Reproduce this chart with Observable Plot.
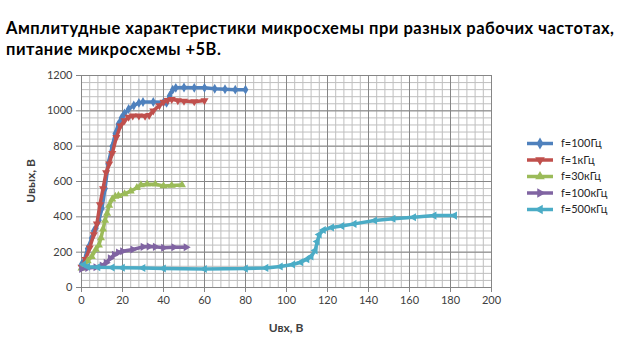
<!DOCTYPE html>
<html>
<head>
<meta charset="utf-8">
<script src="https://cdn.jsdelivr.net/npm/d3@7"></script>
<script src="https://cdn.jsdelivr.net/npm/@observablehq/plot@0.6"></script>
<style>
  body { margin: 0; background: #fff; }
  #wrap { position: relative; width: 624px; height: 354px; font-family: Lato, sans-serif; overflow: hidden; }
  #title { position: absolute; left: 6px; top: 18px; font-weight: bold; font-size: 16.5px; letter-spacing: 0.5px; line-height: 21px; color: #000; white-space: nowrap; }
  #ylab { position: absolute; left: 30px; top: 181px; transform: translate(-50%,-50%) rotate(-90deg); font-weight: bold; font-size: 12px; color: #404040; white-space: nowrap; }
  #xlab { position: absolute; left: 286px; top: 327px; transform: translate(-50%,-50%); font-weight: bold; font-size: 12px; color: #404040; white-space: nowrap; }
  #chart { position: absolute; left: 0; top: 0; }
  #legend { position: absolute; left: 524px; top: 134px; }
</style>
</head>
<body>
<div id="wrap">
  <div id="chart"></div>
  <div id="title">Амплитудные характеристики микросхемы при разных рабочих частотах,<br>питание микросхемы +5В.</div>
  <div id="ylab">Uвых, В</div>
  <div id="xlab">Uвх, В</div>
  <div id="legend"></div>
</div>
<script>
// Series names
const seriesNames = ["f=100Гц", "f=1кГц", "f=30кГц", "f=100кГц", "f=500кГц"];
const seriesColors = ["#4F81BD", "#C0504D", "#9BBB59", "#8064A2", "#4BACC6"];

// f=100Гц
const blueX = [0,1,3,5,6,7,8.5,10,11.5,13,15,16.5,18,19.5,21,23,25.5,28,30,35,40,41.5,43,44.5,46,50,55,60,65,70,75,80];
const blueY = [130,140,220,280,320,335,380,450,560,700,800,870,925,960,985,1010,1030,1045,1050,1050,1048,1045,1085,1120,1130,1132,1130,1130,1125,1122,1120,1120];
// f=1кГц
const redX = [0,2,4,6,7.5,9,10.5,12,13.5,15,17,19,21,23,25,28,31,33,35,38,40,42,44,47,50,55,60];
const redY = [115,160,225,300,360,470,560,650,700,760,850,915,945,965,972,972,970,975,1000,1030,1050,1060,1065,1058,1055,1052,1058];
// f=30кГц
const greenX = [0,3,5,7,8.5,9.5,10.5,11.5,12.5,13.5,15,16.5,18,21,24,27,29,32,36,40,44,49];
const greenY = [110,150,175,215,240,280,330,380,420,465,500,515,520,530,545,565,580,585,585,575,578,580];
// f=100кГц
const purpleX = [0,3,7,10,12,14,16,18,20,25,30,33,36,40,45,51];
const purpleY = [105,110,115,125,140,165,185,198,205,215,230,232,230,225,228,228];
// f=500кГц
const cyanX = [1,3,8,15,20,30,40,60,80,90,97,103,107,110,112,114,115,116,118,122,127,133,143,152,162,172,182];
const cyanY = [130,118,115,113,112,110,108,105,107,111,119,130,143,160,175,210,260,300,325,340,348,360,379,389,398,407,407];

// Tick values
const xTicks = [0,20,40,60,80,100,120,140,160,180,200];
const yTicks = [0,200,400,600,800,1000,1200];
const xMinor = d3.range(0, 201, 4);
const yMinor = d3.range(0, 1201, 40);

const markerSymbols = ["diamond", "triangle", "triangle", "triangle", "triangle"];
const markerRotate = [0, 180, 0, 90, -90];

const seriesXY = [[blueX, blueY], [redX, redY], [greenX, greenY], [purpleX, purpleY], [cyanX, cyanY]];
const data = [];
seriesXY.forEach(([xs, ys], i) => {
  xs.forEach((x, j) => data.push({series: seriesNames[i], idx: i, x, y: ys[j]}));
});

const marks = [
  Plot.ruleX(xMinor, {stroke: "#bfbfbf", strokeWidth: 1}),
  Plot.ruleY(yMinor, {stroke: "#bfbfbf", strokeWidth: 1}),
  Plot.ruleX(xTicks, {stroke: "#868686", strokeWidth: 1}),
  Plot.ruleY(yTicks, {stroke: "#868686", strokeWidth: 1}),
  Plot.axisX({ticks: xTicks, tickSize: 5, tickPadding: 4, stroke: "#868686", label: null, fontSize: 11, tickFormat: "d"}),
  Plot.axisY({ticks: yTicks, tickSize: 5, tickPadding: 4, stroke: "#868686", label: null, fontSize: 11, tickFormat: "d"}),
];
seriesNames.forEach((name, i) => {
  const d = data.filter(r => r.idx === i);
  marks.push(Plot.line(d, {x: "x", y: "y", stroke: seriesColors[i], strokeWidth: 3.5, strokeLinejoin: "round", strokeLinecap: "round"}));
  marks.push(Plot.dot(d, {x: "x", y: "y", symbol: () => markerSymbols[i], rotate: markerRotate[i], fill: seriesColors[i], stroke: "none", r: 3}));
});

const chart = Plot.plot({
  width: 624, height: 354,
  marginLeft: 81, marginRight: 133, marginTop: 75, marginBottom: 67,
  x: {domain: [0, 200]},
  y: {domain: [0, 1200]},
  symbol: {type: "identity"},
  style: {fontFamily: "Lato, sans-serif", fontSize: "11px", color: "#404040", background: "transparent"},
  marks
});
document.getElementById("chart").appendChild(chart);

// Legend
const lg = d3.select("#legend").append("svg").attr("width", 100).attr("height", 90)
  .style("font-family", "Lato, sans-serif").style("font-size", "11px");
seriesNames.forEach((name, i) => {
  const cy = 9.5 + i * 16.5;
  const g = lg.append("g");
  g.append("line").attr("x1", 3).attr("x2", 29).attr("y1", cy).attr("y2", cy)
    .attr("stroke", seriesColors[i]).attr("stroke-width", 3.5);
  const sym = markerSymbols[i] === "diamond" ? d3.symbolDiamond : d3.symbolTriangle;
  g.append("path").attr("d", d3.symbol(sym, 40)())
    .attr("transform", `translate(16,${cy}) rotate(${markerRotate[i]})`).attr("fill", seriesColors[i]);
  g.append("text").attr("x", 37).attr("y", cy).attr("dy", "0.35em").attr("fill", "#262626").text(name);
});
</script>
</body>
</html>
